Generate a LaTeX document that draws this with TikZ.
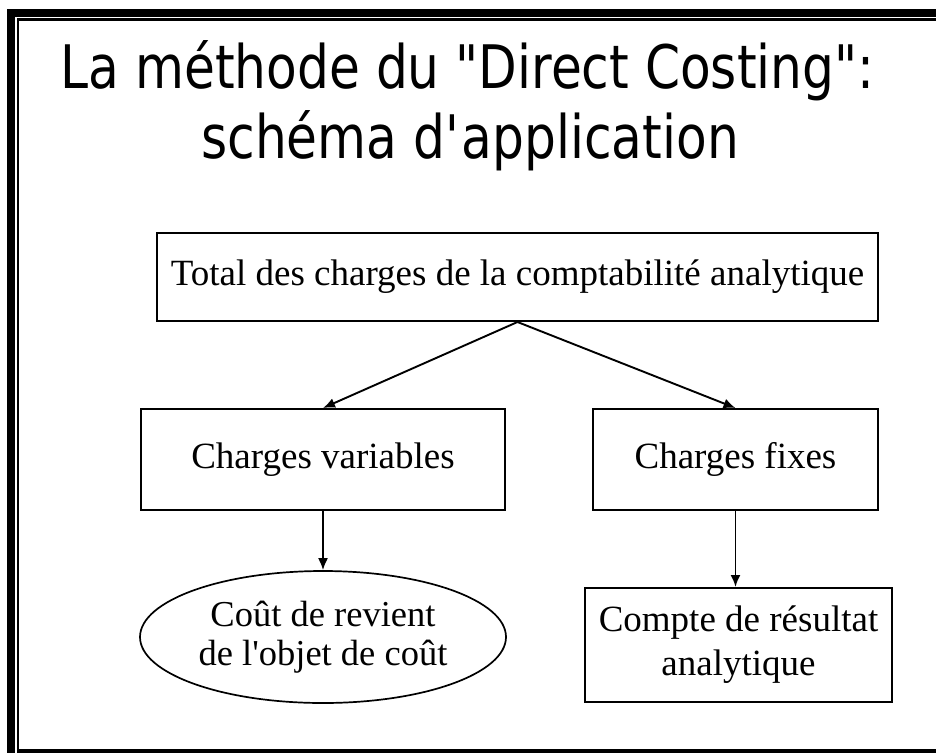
\documentclass[tikz,border=0pt]{standalone}
\usepackage{fontspec}
\setmainfont{Liberation Serif}
\newfontfamily\titlefont[FakeStretch=0.837]{DejaVu Sans}
\usetikzlibrary{shapes.geometric,arrows.meta}
\begin{document}
\begin{tikzpicture}[x=1pt,y=-1pt,
  box/.style={draw,line width=2pt,inner sep=0pt,align=center,font=\fontsize{37}{44}\selectfont},
  ell/.style={draw,ellipse,line width=1.7pt,inner sep=0pt,align=center,font=\fontsize{36.5}{38.5}\selectfont},
  ttl/.style={anchor=base,inner sep=0pt,font=\titlefont\fontsize{60}{70}\selectfont},
  arr/.style={line width=1.9pt,-{Latex[length=12pt,width=10pt]}}]
\useasboundingbox (0,0) rectangle (936,753);
% frame
\fill (6.7,9) rectangle (15.3,753);
\fill (6.7,9) rectangle (936,17);
\fill (16.7,18.3) rectangle (19.3,753);
\fill (16.7,18.3) rectangle (936,21);
\fill (16.7,749) rectangle (936,753);
% title
\node[ttl] (t1) at (467.5,88) {La méthode du "Direct Costing":};
\node[ttl] (t2) at (470,158) {schéma d\textquotesingle application};
% boxes
\node[box,minimum width=721pt,minimum height=88pt] (tot) at (517.5,277) {Total des charges de la comptabilité analytique};
\node[box,minimum width=364pt,minimum height=101pt] (cv) at (323,459.5) {Charges variables};
\node[box,minimum width=285pt,minimum height=101pt] (cf) at (735.5,459.5) {Charges fixes};
\node[ell,minimum width=366pt,minimum height=132pt] (cr) at (323,637) {Coût de revient\\de l\textquotesingle objet de coût};
\node[box,minimum width=307pt,minimum height=114pt] (crs) at (738.5,645) {Compte de résultat\\analytique};
% arrows
\draw[arr] (tot.south) -- (cv.north);
\draw[arr] (tot.south) -- (cf.north);
\draw[arr] (cv.south) -- (cr.north);
\draw[arr] (cf.south) -- (cf.south |- crs.north);
\end{tikzpicture}
\end{document}
